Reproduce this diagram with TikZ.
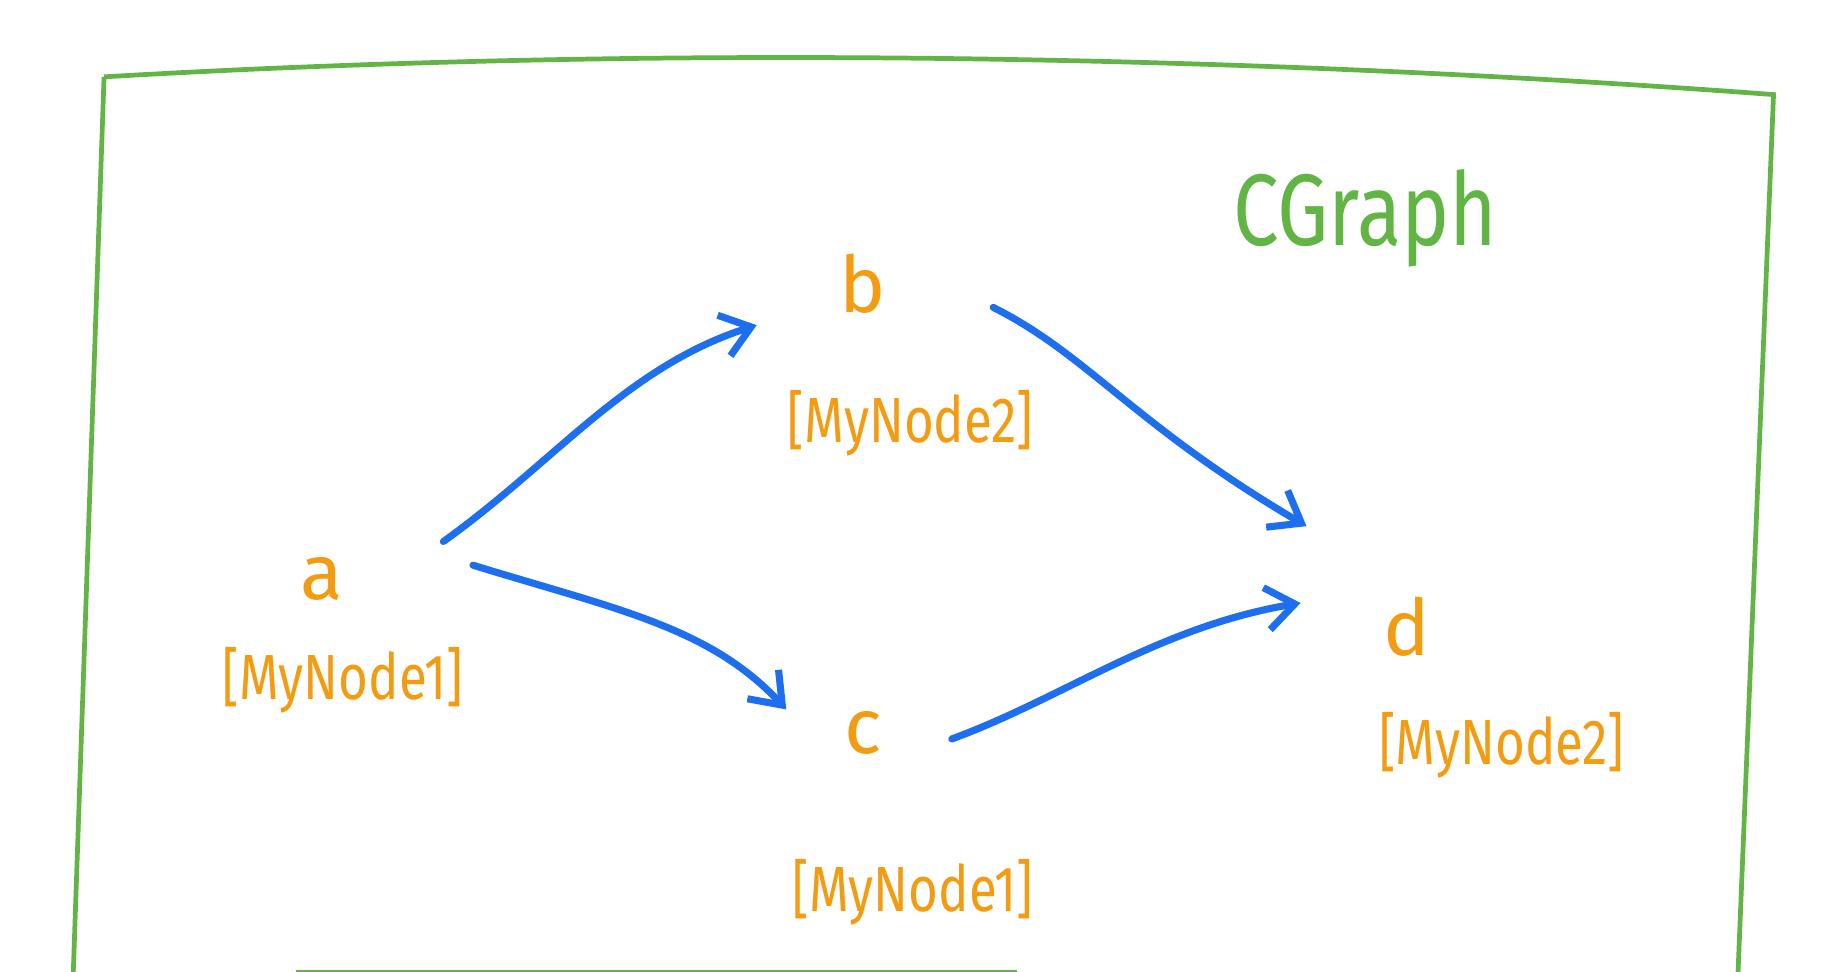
\documentclass[tikz,border=0pt]{standalone}
\usepackage{fontspec}
\setmainfont{Fira Sans}
\usetikzlibrary{arrows.meta}
\definecolor{gr}{HTML}{62B544}
\definecolor{orn}{HTML}{F39C12}
\definecolor{bl}{HTML}{1E6FF0}
\tikzset{
 lbl/.style={text=orn,font=\fontsize{66}{66}\selectfont},
 sub/.style={text=orn,font=\fontsize{54}{54}\selectfont\addfontfeatures{FakeStretch=0.8}},
 arr/.style={draw=bl,line width=6pt,line cap=round,-{Straight Barb[length=24pt,width=36pt,line width=6pt]}}
}
\begin{document}
\begin{tikzpicture}[x=1pt,y=-1pt]
\useasboundingbox (0,0) rectangle (1552,822);
\draw[gr,line width=4pt] (88,65) .. controls (600,35) and (1100,50) .. (1500,80)
  -- (1470,822) (62,822) -- (88,65);
\draw[gr,line width=4pt] (250,822) -- (860,822);
\node[text=gr,font=\fontsize{86}{86}\selectfont\addfontfeatures{FakeStretch=0.8}] (t) at (1155,185) {CGraph};
\node[lbl] (b) at (730,240) {b};
\node[sub] (b2) at (770,358) {[MyNode2]};
\node[lbl] (a) at (272,490) {a};
\node[sub] (a2) at (290,575) {[MyNode1]};
\node[lbl] (c) at (730,620) {c};
\node[sub] (c2) at (772,755) {[MyNode1]};
\node[lbl] (d) at (1190,530) {d};
\node[sub] (d2) at (1270,630) {[MyNode2]};
\coordinate (a1) at (375,458); \coordinate (bt) at (640,275);
\coordinate (a3) at (400,478); \coordinate (ct) at (665,600);
\coordinate (b1) at (840,260); \coordinate (dt) at (1105,445);
\coordinate (c1) at (805,625); \coordinate (dt2) at (1100,510);
\draw[arr] (a1) .. controls (470,390) and (530,310) .. (bt);
\draw[arr] (a3) .. controls (520,515) and (600,530) .. (ct);
\draw[arr] (b1) .. controls (920,300) and (960,360) .. (dt);
\draw[arr] (c1) .. controls (900,590) and (980,530) .. (dt2);
\end{tikzpicture}
\end{document}
